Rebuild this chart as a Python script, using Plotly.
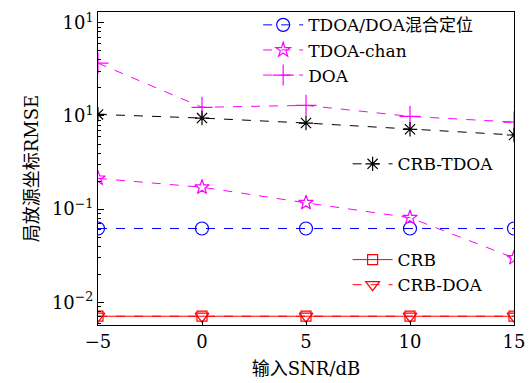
import plotly.graph_objects as go

snr = [-5, 0, 5, 10, 15]
hybrid = [0.062, 0.062, 0.062, 0.062, 0.062]
tdoa_chan = [0.214, 0.172, 0.117, 0.081, 0.030]
doa = [3.69, 1.24, 1.30, 0.99, 0.86]
crb_tdoa = [1.04, 0.95, 0.84, 0.72, 0.625]
crb = [0.0071, 0.0071, 0.0071, 0.0071, 0.0071]
crb_doa = [0.0071, 0.0071, 0.0071, 0.0071, 0.0071]

y_tickvals = [0.01, 0.1, 1, 10]
y_ticktext = ["10<sup>−2</sup>", "10<sup>−1</sup>", "10<sup>1</sup>", "10<sup>1</sup>"]
x_tickvals = [-5, 0, 5, 10, 15]
x_ticktext = ["−5", "0", "5", "10", "15"]

FONT = "DejaVu Serif, Noto Sans CJK SC"

fig = go.Figure()

def add(name, y, color, symbol, size, dash, legend):
    fig.add_trace(go.Scatter(
        x=snr, y=y, name=name, mode="lines+markers",
        line=dict(color=color, width=1, dash=dash),
        marker=dict(symbol=symbol, size=size, color=color,
                    line=dict(color=color, width=1.2)),
        legend=legend, cliponaxis=True))

add("TDOA/DOA混合定位", hybrid, "#0000ff", "circle-open", 13, "dash", "legend")
add("TDOA-chan", tdoa_chan, "#ff00ff", "star-open", 11, "dash", "legend")
add("DOA", doa, "#ff00ff", "cross-thin-open", 15, "dash", "legend")
add("CRB-TDOA", crb_tdoa, "#000000", "asterisk-open", 12, "dash", "legend2")
add("CRB", crb, "#ff0000", "square-open", 10, "solid", "legend3")
add("CRB-DOA", crb_doa, "#ff0000", "triangle-down-open", 12, "dash", "legend3")

leg_common = dict(font=dict(family=FONT, size=17, color="black"),
                  bgcolor="rgba(0,0,0,0)", itemwidth=40, tracegroupgap=0,
                  xanchor="left", yanchor="top")

fig.update_layout(
    width=531, height=383,
    margin=dict(l=98, r=17, t=7, b=58),
    paper_bgcolor="white", plot_bgcolor="white",
    font=dict(family=FONT, size=18, color="black"),
    legend=dict(x=0.385, y=1.015, **leg_common),
    legend2=dict(x=0.6, y=0.571, **leg_common),
    legend3=dict(x=0.6, y=0.265, **leg_common),
    xaxis=dict(range=[-5, 15], tickvals=x_tickvals, ticktext=x_ticktext,
               ticks="inside", ticklen=4, tickcolor="black",
               tickfont=dict(family=FONT, size=18),
               showline=True, linecolor="black", linewidth=1, mirror=True,
               showgrid=False, zeroline=False,
               title=dict(text="输入SNR/dB", standoff=11,
                          font=dict(family=FONT, size=18))),
    yaxis=dict(type="log", range=[-2.243, 1.116],
               tickvals=y_tickvals, ticktext=y_ticktext,
               ticks="inside", ticklen=6, tickcolor="black",
               tickfont=dict(family=FONT, size=18),
               minor=dict(ticks="inside", ticklen=3, tickcolor="black",
                          tickvals=[m * 10 ** e for e in (-3, -2, -1, 0, 1)
                                    for m in range(2, 10)]),
               showline=True, linecolor="black", linewidth=1, mirror=True,
               showgrid=False, zeroline=False,
               title=dict(text="局放源坐标RMSE", standoff=8,
                          font=dict(family=FONT, size=18))),
)

fig.write_html("out.html")
